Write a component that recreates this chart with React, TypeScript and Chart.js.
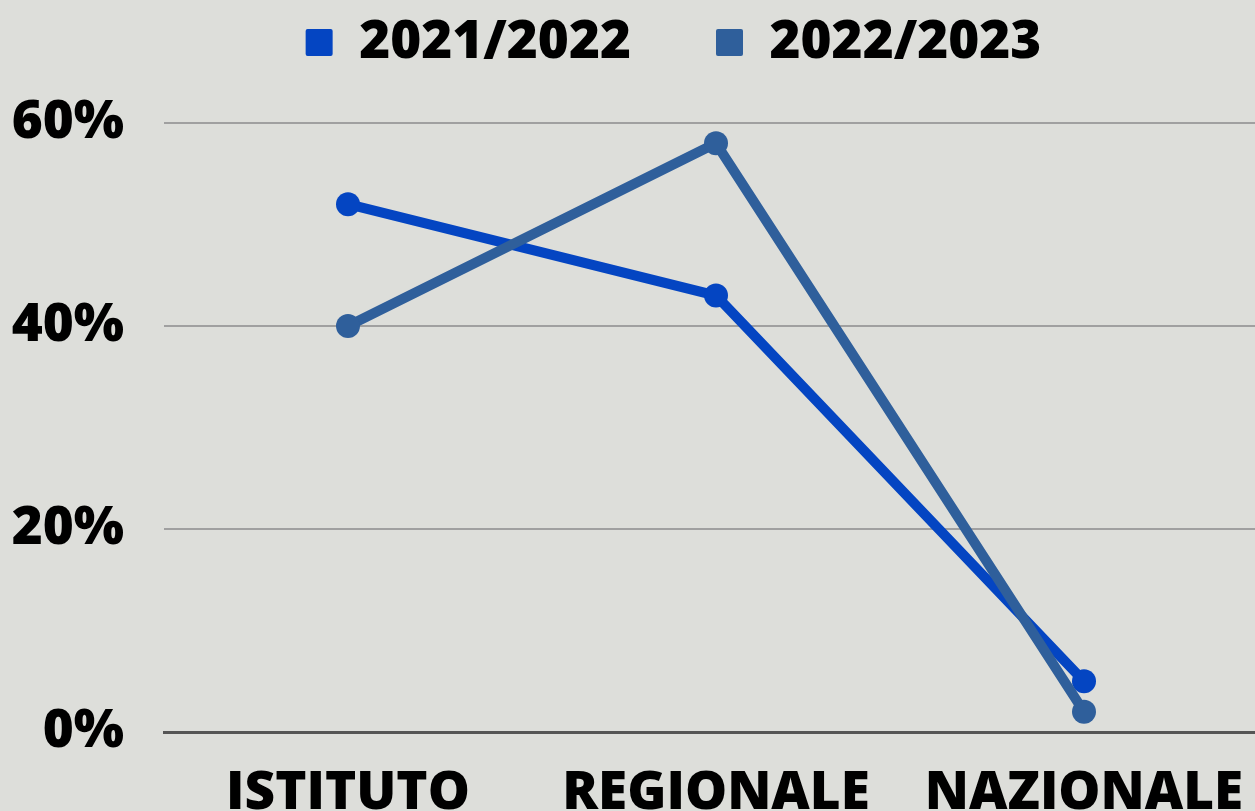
import React, { useEffect, useRef } from "react";
import { Chart, registerables } from "chart.js";

Chart.register(...registerables);

const categories = ["ISTITUTO", "REGIONALE", "NAZIONALE"];
const series2122 = [52, 43, 5];
const series2223 = [40, 58, 2];
const seriesLabels = ["2021/2022", "2022/2023"];
const yTicks = [0, 20, 40, 60];

const FONT = "'Open Sans', 'DejaVu Sans', sans-serif";
const BG = "#dddeda";
const FS = 53;

const legendFix = {
  id: "legendFix",
  beforeLayout(chart: any) {
    const lg = chart.legend;
    if (lg && !lg.__patched) {
      const orig = lg.fit.bind(lg);
      lg.fit = () => {
        orig();
        lg.height = 123;
      };
      lg.__patched = true;
    }
  },
  afterLayout(chart: any) {
    const lg = chart.legend;
    if (lg) {
      lg.top = -69;
      lg.height = 190;
      lg.bottom = lg.top + lg.height;
      lg.left = 0;
      lg.right = 1347;
      lg.width = 1347;
    }
  },
};

export default function App() {
  const ref = useRef<HTMLCanvasElement>(null);
  useEffect(() => {
    if (!ref.current) return;
    const chart = new Chart(ref.current, {
      type: "line",
      data: {
        labels: categories,
        datasets: [
          {
            label: seriesLabels[0],
            data: series2122,
            borderColor: "#0445c2",
            backgroundColor: "#0445c2",
            pointBackgroundColor: "#0445c2",
            borderWidth: 10,
            pointRadius: 12,
            pointBorderWidth: 0,
            tension: 0,
            order: 1,
          },
          {
            label: seriesLabels[1],
            data: series2223,
            borderColor: "#2f5f9b",
            backgroundColor: "#2f5f9b",
            pointBackgroundColor: "#2f5f9b",
            borderWidth: 10,
            pointRadius: 12,
            pointBorderWidth: 0,
            tension: 0,
            order: 0,
          },
        ],
      },
      options: {
        responsive: false,
        animation: false,
        devicePixelRatio: 1,
        layout: { padding: 0 },
        plugins: {
          tooltip: { enabled: false },
          legend: {
            position: "top",
            align: "center",
            labels: {
              boxWidth: 27,
              boxHeight: 27,
              padding: 85,
              useBorderRadius: true,
              borderRadius: 2,
              color: "#000",
              font: { family: FONT, size: FS, weight: "800" as any },
              sort: (a: any, b: any) => a.datasetIndex - b.datasetIndex,
              generateLabels: (c: any) =>
                Chart.defaults.plugins.legend.labels
                  .generateLabels(c)
                  .map((it: any) => ({ ...it, lineWidth: 0, borderRadius: 2 })),
            },
          },
        },
        scales: {
          x: {
            offset: true,
            grid: { display: false, drawTicks: false },
            border: { display: true, color: "#555555", width: 3 },
            ticks: {
              padding: 30,
              color: "#000",
              maxRotation: 0,
              autoSkip: false,
              font: { family: FONT, size: FS, weight: "800" as any },
            },
            afterFit: (s: any) => {
              s.height = 79;
            },
          },
          y: {
            min: 0,
            max: 60,
            afterBuildTicks: (s: any) => {
              s.ticks = yTicks.map((v) => ({ value: v }));
            },
            grid: {
              drawTicks: false,
              lineWidth: 2,
              color: (ctx: any) => (ctx.tick && ctx.tick.value === 0 ? "#555555" : "#a0a0a0"),
            },
            border: { display: false },
            ticks: {
              padding: 40,
              color: "#000",
              font: { family: FONT, size: FS, weight: "800" as any },
              callback: (v: any) => v + "%",
            },
            afterFit: (s: any) => {
              s.width = 164;
            },
          },
        },
      },
      plugins: [legendFix],
    });
    return () => chart.destroy();
  }, []);
  return (
    <div
      style={{
        position: "fixed",
        left: 0,
        top: 0,
        width: 1255,
        height: 811,
        overflow: "hidden",
        background: BG,
      }}
    >
      <canvas ref={ref} width={1280} height={811} style={{ display: "block" }} />
    </div>
  );
}
